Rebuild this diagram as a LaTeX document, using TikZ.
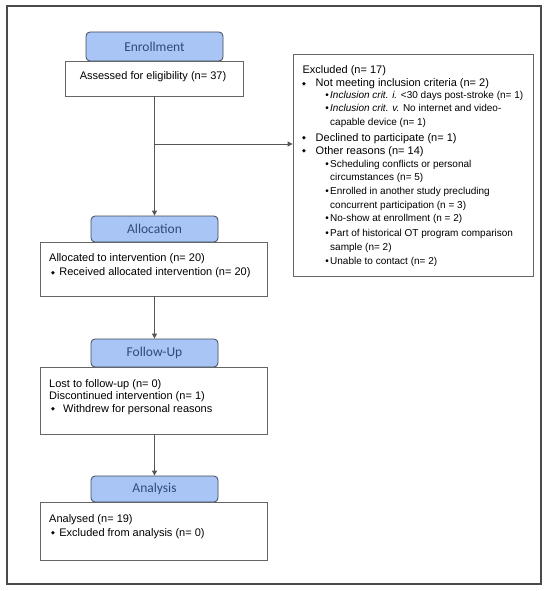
\documentclass[tikz,border=0pt]{standalone}
\usepackage{fontspec}
\setmainfont{Liberation Sans}
\newfontfamily\hdrfont{Carlito}
\newfontfamily\symfont{DejaVu Sans}
\usetikzlibrary{arrows.meta}
\definecolor{hdrfill}{HTML}{A8C5F6}
\definecolor{hdrtext}{HTML}{2D4A78}
\definecolor{hdrline}{HTML}{3E4756}
\definecolor{boxline}{HTML}{666666}
\definecolor{frameline}{HTML}{4A4A4A}
\definecolor{conn}{HTML}{555555}
\newcommand{\dia}{\raisebox{1.3pt}{\symfont\fontsize{5}{5}\selectfont ◆}}
\newcommand{\mbul}[1]{\makebox[#1][l]{\dia}}
\newcommand{\subbul}{\makebox[4.8pt][l]{•}}
\begin{document}
\begin{tikzpicture}[x=1pt,y=-1pt,
  hdr/.style={draw=hdrline, fill=hdrfill, rounded corners=4pt, line width=0.8pt,
    text=hdrtext, font=\hdrfont\fontsize{13.5}{14}\selectfont,
    minimum width=127pt, inner sep=0},
  box/.style={draw=boxline, line width=0.8pt, fill=white, inner sep=0},
  txt/.style={anchor=base west, inner sep=0, font=\fontsize{11}{13}\selectfont},
  sub/.style={anchor=base west, inner sep=0, font=\fontsize{10}{12}\selectfont},
  arr/.style={draw=conn, line width=0.9pt, -{Triangle[length=5pt,width=5pt]}},
  ln/.style={draw=conn, line width=0.9pt}]
\useasboundingbox (0,0) rectangle (550,591);
\node[draw=frameline, line width=1.3pt, minimum width=534pt, minimum height=578pt, inner sep=0] (frame) at (274,295) {};

% Enrollment
\node[hdr, minimum width=137pt, minimum height=29pt] (enrh) at (154.5,46.5) {Enrollment};
\node[box, minimum width=178pt, minimum height=35pt] (assess) at (154,78.5) {};
\node[anchor=base, inner sep=0, font=\fontsize{11}{13}\selectfont] (assesst) at (153,80) {Assessed for eligibility (n= 37)};

% Excluded
\node[box, minimum width=240pt, minimum height=222pt] (excl) at (413,165) {};
\node[txt] (e1) at (302.3,74) {Excluded (n= 17)};
\node[txt] (e2) at (302,87) {\mbul{13.5pt}Not meeting inclusion criteria (n= 2)};
\node[sub] (e3) at (325.2,99) {\subbul\textit{Inclusion crit. i.} <30 days post-stroke (n= 1)};
\node[sub] (e4) at (325.2,112) {\subbul\textit{Inclusion crit. v.} No internet and video-};
\node[sub] (e5) at (330,125) {capable device (n= 1)};
\node[txt] (e6) at (302,141) {\mbul{13.5pt}Declined to participate (n= 1)};
\node[txt] (e7) at (302,154) {\mbul{13.5pt}Other reasons (n= 14)};
\node[sub] (e8) at (325.2,167) {\subbul Scheduling conflicts or personal};
\node[sub] (e9) at (330,180) {circumstances (n= 5)};
\node[sub] (e10) at (325.2,194) {\subbul Enrolled in another study precluding};
\node[sub] (e11) at (330,208) {concurrent participation (n = 3)};
\node[sub] (e12) at (325.2,221) {\subbul No-show at enrollment (n = 2)};
\node[sub] (e13) at (325.2,236) {\subbul Part of historical OT program comparison};
\node[sub] (e14) at (330,250) {sample (n= 2)};
\node[sub] (e15) at (325.2,264) {\subbul Unable to contact (n= 2)};

% Allocation
\node[hdr, minimum height=26pt] (alloch) at (154.5,229) {Allocation};
\node[box, minimum width=227pt, minimum height=54pt] (alloc) at (154,269) {};
\node[txt] (a1) at (49,261) {Allocated to intervention (n= 20)};
\node[txt] (a2) at (51,275.5) {\mbul{8.2pt}Received allocated intervention (n= 20)};

% Follow-up
\node[hdr, minimum height=28pt] (fuh) at (154.5,353) {Follow-Up};
\node[box, minimum width=227pt, minimum height=67pt] (fu) at (154,400.5) {};
\node[txt] (f1) at (49,387) {Lost to follow-up (n= 0)};
\node[txt] (f2) at (49,399.5) {Discontinued intervention (n= 1)};
\node[txt] (f3) at (51,412) {\mbul{12pt}Withdrew for personal reasons};

% Analysis
\node[hdr, minimum height=26pt] (anh) at (154.5,489) {Analysis};
\node[box, minimum width=227pt, minimum height=58pt] (an) at (154,531) {};
\node[txt] (n1) at (49,522) {Analysed (n= 19)};
\node[txt] (n2) at (51,536) {\mbul{8.2pt}Excluded from analysis (n= 0)};

% connectors
\coordinate (split) at (154,144);
\draw[arr] (assess.south -| enrh.south) -- (alloch.north);
\draw[arr] (split) -- (split -| excl.west);
\draw[arr] (alloc.south -| alloch.south) -- (fuh.north);
\draw[arr] (fu.south -| fuh.south) -- (anh.north);
\end{tikzpicture}
\end{document}
